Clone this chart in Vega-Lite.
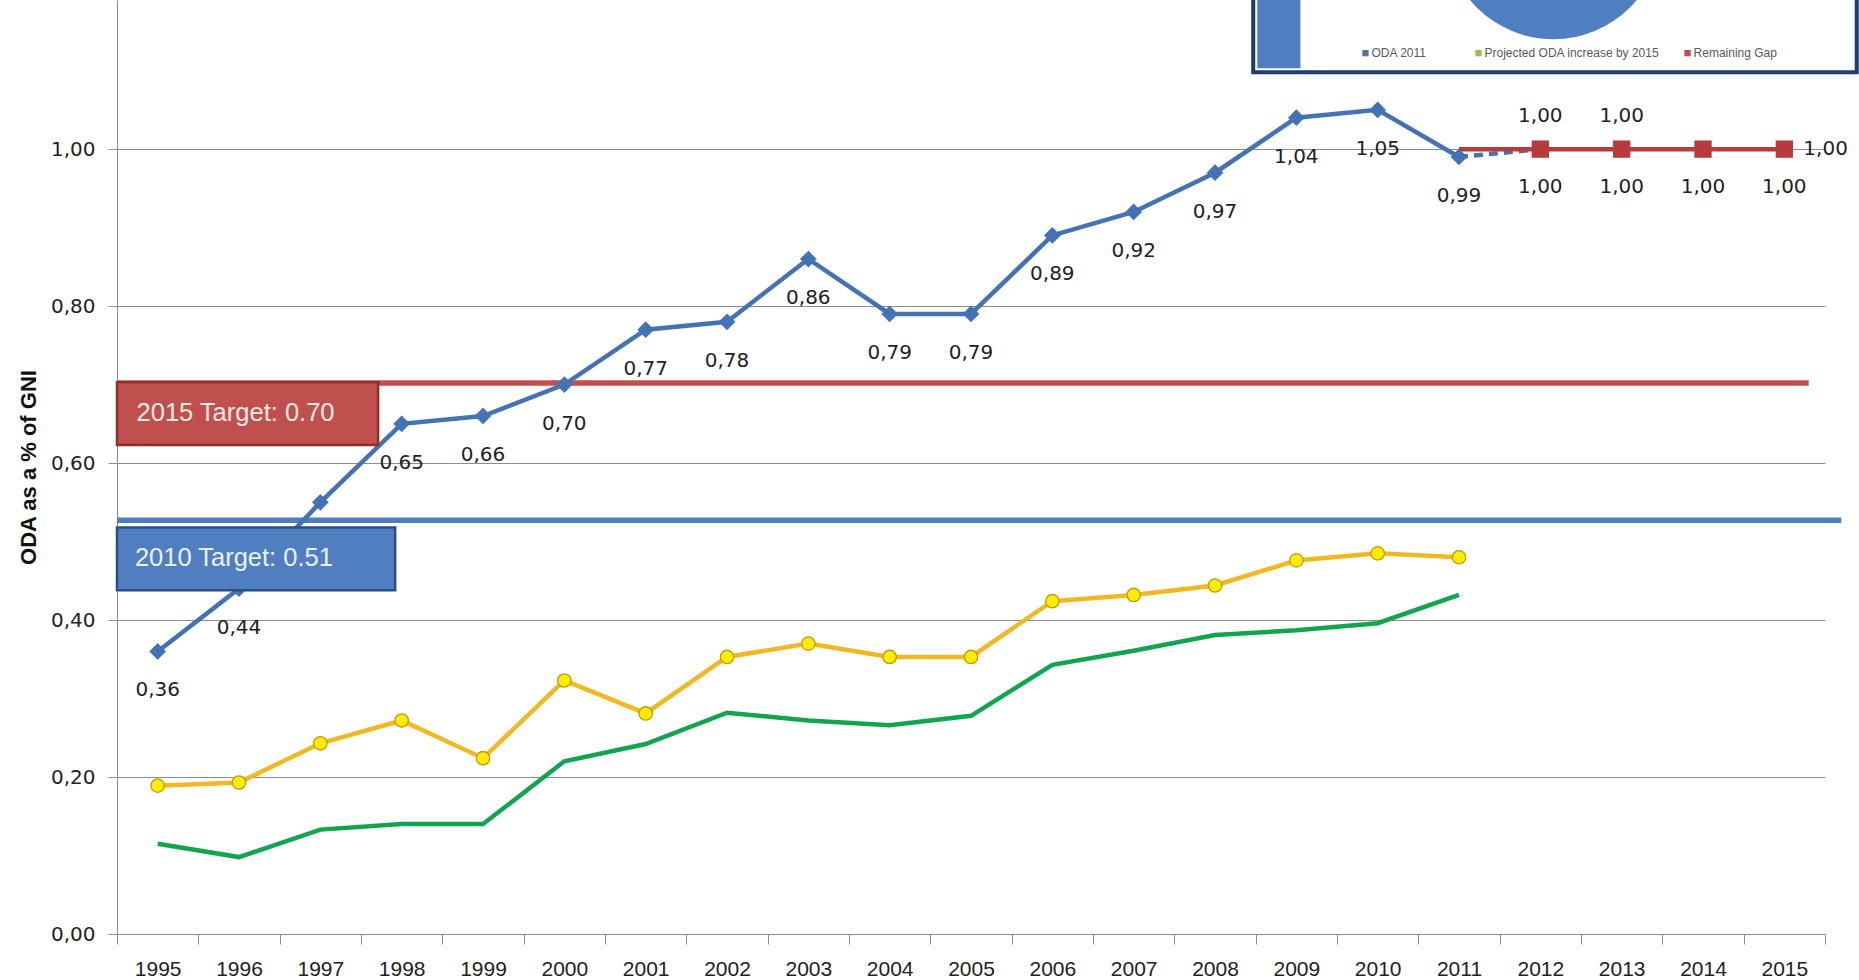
{
  "$schema": "https://vega.github.io/schema/vega-lite/v6.json",
  "width": 1708,
  "height": 934,
  "autosize": {"type": "none"},
  "padding": {"left": 117, "top": 0, "right": 34, "bottom": 46},
  "background": "white",
  "config": {
    "view": {"stroke": null},
    "locale": {"number": {"decimal": ",", "thousands": ".", "grouping": [3], "currency": ["", ""]}}
  },
  "datasets": {
    "targets": [
      {"year": 1994.5, "year2": 2015.3, "v": 0.702, "name": "2015 Target"},
      {"year": 1994.5, "year2": 2015.7, "v": 0.527, "name": "2010 Target"}
    ],
    "blue": [
      {"year": 1995, "v": 0.36}, {"year": 1996, "v": 0.44}, {"year": 1997, "v": 0.55},
      {"year": 1998, "v": 0.65}, {"year": 1999, "v": 0.66}, {"year": 2000, "v": 0.70},
      {"year": 2001, "v": 0.77}, {"year": 2002, "v": 0.78}, {"year": 2003, "v": 0.86},
      {"year": 2004, "v": 0.79}, {"year": 2005, "v": 0.79}, {"year": 2006, "v": 0.89},
      {"year": 2007, "v": 0.92}, {"year": 2008, "v": 0.97}, {"year": 2009, "v": 1.04},
      {"year": 2010, "v": 1.05}, {"year": 2011, "v": 0.99}
    ],
    "projection": [
      {"year": 2011, "v": 0.99}, {"year": 2012, "v": 1.00}
    ],
    "red": [
      {"year": 2011, "v": 1.00}, {"year": 2012, "v": 1.00}, {"year": 2013, "v": 1.00},
      {"year": 2014, "v": 1.00}, {"year": 2015, "v": 1.00}
    ],
    "redMarkers": [
      {"year": 2012, "v": 1.00}, {"year": 2013, "v": 1.00}, {"year": 2014, "v": 1.00}, {"year": 2015, "v": 1.00}
    ],
    "redAbove": [
      {"year": 2012, "v": 1.00}, {"year": 2013, "v": 1.00}
    ],
    "redRight": [
      {"year": 2015, "v": 1.00}
    ],
    "yellow": [
      {"year": 1995, "v": 0.189}, {"year": 1996, "v": 0.193}, {"year": 1997, "v": 0.243},
      {"year": 1998, "v": 0.272}, {"year": 1999, "v": 0.224}, {"year": 2000, "v": 0.323},
      {"year": 2001, "v": 0.281}, {"year": 2002, "v": 0.353}, {"year": 2003, "v": 0.370},
      {"year": 2004, "v": 0.353}, {"year": 2005, "v": 0.353}, {"year": 2006, "v": 0.424},
      {"year": 2007, "v": 0.432}, {"year": 2008, "v": 0.444}, {"year": 2009, "v": 0.476},
      {"year": 2010, "v": 0.485}, {"year": 2011, "v": 0.480}
    ],
    "green": [
      {"year": 1995, "v": 0.115}, {"year": 1996, "v": 0.098}, {"year": 1997, "v": 0.133},
      {"year": 1998, "v": 0.140}, {"year": 1999, "v": 0.140}, {"year": 2000, "v": 0.220},
      {"year": 2001, "v": 0.242}, {"year": 2002, "v": 0.282}, {"year": 2003, "v": 0.272},
      {"year": 2004, "v": 0.266}, {"year": 2005, "v": 0.278}, {"year": 2006, "v": 0.343},
      {"year": 2007, "v": 0.361}, {"year": 2008, "v": 0.381}, {"year": 2009, "v": 0.387},
      {"year": 2010, "v": 0.396}, {"year": 2011, "v": 0.432}
    ],
    "redBox": [
      {"year": 1994.5, "year2": 1997.71, "v": 0.703, "v2": 0.623}
    ],
    "redBoxText": [
      {"year": 1994.74, "v": 0.664, "label": "2015 Target: 0.70"}
    ],
    "blueBox": [
      {"year": 1994.5, "year2": 1997.92, "v": 0.518, "v2": 0.438}
    ],
    "blueBoxText": [
      {"year": 1994.72, "v": 0.479, "label": "2010 Target: 0.51"}
    ],
    "inset": [
      {"year": 2008.47, "year2": 2015.89, "v": 1.098, "v2": 1.3}
    ],
    "insetBar": [
      {"year": 2008.52, "year2": 2009.05, "v": 1.103, "v2": 1.3}
    ],
    "insetPie": [
      {"year": 2012.16, "v": 1.2775}
    ],
    "insetLegend": [
      {"year": 2009.85, "v": 1.1223, "label": "ODA 2011", "color": "ODA 2011"},
      {"year": 2011.24, "v": 1.1223, "label": "Projected ODA increase by 2015", "color": "Projected"},
      {"year": 2013.81, "v": 1.1223, "label": "Remaining Gap", "color": "Gap"}
    ]
  },
  "encoding": {
    "x": {
      "field": "year",
      "type": "quantitative",
      "scale": {"domain": [1994.5, 2015.5], "nice": false, "zero": false},
      "axis": {
        "title": null,
        "values": [1994.5, 1995, 1995.5, 1996, 1996.5, 1997, 1997.5, 1998, 1998.5, 1999, 1999.5, 2000, 2000.5, 2001, 2001.5, 2002, 2002.5, 2003, 2003.5, 2004, 2004.5, 2005, 2005.5, 2006, 2006.5, 2007, 2007.5, 2008, 2008.5, 2009, 2009.5, 2010, 2010.5, 2011, 2011.5, 2012, 2012.5, 2013, 2013.5, 2014, 2014.5, 2015, 2015.5],
        "labelExpr": "datum.value % 1 == 0 ? format(datum.value, 'd') : ''",
        "tickOpacity": {"condition": {"test": "datum.value % 1 != 0", "value": 1}, "value": 0},
        "grid": false,
        "domainColor": "#8c8c8c",
        "tickColor": "#8c8c8c",
        "tickSize": 10,
        "labelPadding": 14,
        "labelFont": "Liberation Sans",
        "labelFontSize": 21,
        "labelColor": "#222222",
        "labelOverlap": false,
        "labelFlush": false,
        "labelBound": false
      }
    },
    "y": {
      "field": "v",
      "type": "quantitative",
      "scale": {"domain": [0, 1.19], "nice": false, "zero": true},
      "axis": {
        "title": "ODA as a % of GNI",
        "values": [0, 0.2, 0.4, 0.6, 0.8, 1.0],
        "labelExpr": "replace(format(datum.value, '.2f'), '.', ',')",
        "grid": true,
        "gridColor": "#8c8c8c",
        "gridWidth": 1,
        "domainColor": "#8c8c8c",
        "tickColor": "#8c8c8c",
        "tickSize": 9,
        "labelPadding": 13,
        "labelFont": "DejaVu Sans",
        "labelFontSize": 20,
        "labelColor": "#222222",
        "titleFont": "Liberation Sans",
        "titleFontWeight": "bold",
        "titleFontSize": 22,
        "titleColor": "#111111",
        "titlePadding": 10
      }
    }
  },
  "layer": [
    {
      "data": {"name": "targets"},
      "transform": [{"filter": "datum.name == '2015 Target'"}],
      "mark": {"type": "rule", "color": "#c0504d", "strokeWidth": 5.5},
      "encoding": {"x2": {"field": "year2"}}
    },
    {
      "data": {"name": "targets"},
      "transform": [{"filter": "datum.name == '2010 Target'"}],
      "mark": {"type": "rule", "color": "#4f7fc0", "strokeWidth": 5.5},
      "encoding": {"x2": {"field": "year2"}}
    },
    {
      "data": {"name": "green"},
      "mark": {"type": "line", "color": "#12a550", "strokeWidth": 4.5}
    },
    {
      "data": {"name": "yellow"},
      "mark": {"type": "line", "color": "#f2b824", "strokeWidth": 4.5}
    },
    {
      "data": {"name": "yellow"},
      "mark": {"type": "point", "shape": "circle", "filled": true, "fill": "#ffec00", "stroke": "#c29a00", "strokeWidth": 1.3, "size": 180, "opacity": 1}
    },
    {
      "data": {"name": "projection"},
      "mark": {"type": "line", "color": "#4372b5", "strokeWidth": 4.5, "strokeDash": [9, 6]}
    },
    {
      "data": {"name": "red"},
      "mark": {"type": "line", "color": "#b83b3b", "strokeWidth": 4.5}
    },
    {
      "data": {"name": "redMarkers"},
      "mark": {"type": "point", "shape": "square", "filled": true, "color": "#b83b3b", "size": 300, "opacity": 1}
    },
    {
      "data": {"name": "blue"},
      "mark": {"type": "line", "color": "#4372b5", "strokeWidth": 4.5}
    },
    {
      "data": {"name": "blue"},
      "mark": {"type": "point", "shape": "diamond", "filled": true, "color": "#4372b5", "size": 280, "opacity": 1}
    },
    {
      "data": {"name": "blue"},
      "transform": [{"filter": "datum.year != 1997"}],
      "mark": {"type": "text", "dy": 39, "font": "DejaVu Sans", "fontSize": 20, "color": "#222222"},
      "encoding": {"text": {"field": "v", "type": "quantitative", "format": ".2f"}}
    },
    {
      "data": {"name": "redMarkers"},
      "mark": {"type": "text", "dy": 38, "font": "DejaVu Sans", "fontSize": 20, "color": "#222222"},
      "encoding": {"text": {"field": "v", "type": "quantitative", "format": ".2f"}}
    },
    {
      "data": {"name": "redAbove"},
      "mark": {"type": "text", "dy": -33, "font": "DejaVu Sans", "fontSize": 20, "color": "#222222"},
      "encoding": {"text": {"field": "v", "type": "quantitative", "format": ".2f"}}
    },
    {
      "data": {"name": "redRight"},
      "mark": {"type": "text", "dx": 19, "align": "left", "font": "DejaVu Sans", "fontSize": 20, "color": "#222222"},
      "encoding": {"text": {"field": "v", "type": "quantitative", "format": ".2f"}}
    },
    {
      "data": {"name": "redBox"},
      "mark": {"type": "rect", "fill": "#c0504d", "stroke": "#8e2f2c", "strokeWidth": 2.5},
      "encoding": {"x2": {"field": "year2"}, "y2": {"field": "v2"}}
    },
    {
      "data": {"name": "redBoxText"},
      "mark": {"type": "text", "align": "left", "baseline": "middle", "font": "Liberation Sans", "fontSize": 25.5, "color": "#fde9e7"},
      "encoding": {"text": {"field": "label"}}
    },
    {
      "data": {"name": "blueBox"},
      "mark": {"type": "rect", "fill": "#4f7fc0", "stroke": "#2b4f80", "strokeWidth": 2.5},
      "encoding": {"x2": {"field": "year2"}, "y2": {"field": "v2"}}
    },
    {
      "data": {"name": "blueBoxText"},
      "mark": {"type": "text", "align": "left", "baseline": "middle", "font": "Liberation Sans", "fontSize": 25.5, "color": "#eaf1fb"},
      "encoding": {"text": {"field": "label"}}
    },
    {
      "data": {"name": "inset"},
      "mark": {"type": "rect", "fill": "white"},
      "encoding": {"x2": {"field": "year2"}, "y2": {"field": "v2"}}
    },
    {
      "data": {"name": "insetBar"},
      "mark": {"type": "rect", "fill": "#4f7fc0"},
      "encoding": {"x2": {"field": "year2"}, "y2": {"field": "v2"}}
    },
    {
      "data": {"name": "insetPie"},
      "mark": {"type": "point", "shape": "circle", "filled": true, "color": "#4f7fc0", "size": 46656, "opacity": 1}
    },
    {
      "data": {"name": "insetLegend"},
      "mark": {"type": "point", "shape": "square", "filled": true, "size": 40, "opacity": 1},
      "encoding": {
        "color": {"field": "color", "type": "nominal", "scale": {"domain": ["ODA 2011", "Projected", "Gap"], "range": ["#5a7390", "#9bbb59", "#c0504d"]}, "legend": null}
      }
    },
    {
      "data": {"name": "insetLegend"},
      "mark": {"type": "text", "align": "left", "baseline": "middle", "dx": 6, "font": "Liberation Sans", "fontSize": 12, "color": "#595959"},
      "encoding": {"text": {"field": "label"}}
    },
    {
      "data": {"name": "inset"},
      "mark": {"type": "rect", "fill": null, "fillOpacity": 0, "stroke": "#1f3c6e", "strokeWidth": 4},
      "encoding": {"x2": {"field": "year2"}, "y2": {"field": "v2"}}
    }
  ]
}
